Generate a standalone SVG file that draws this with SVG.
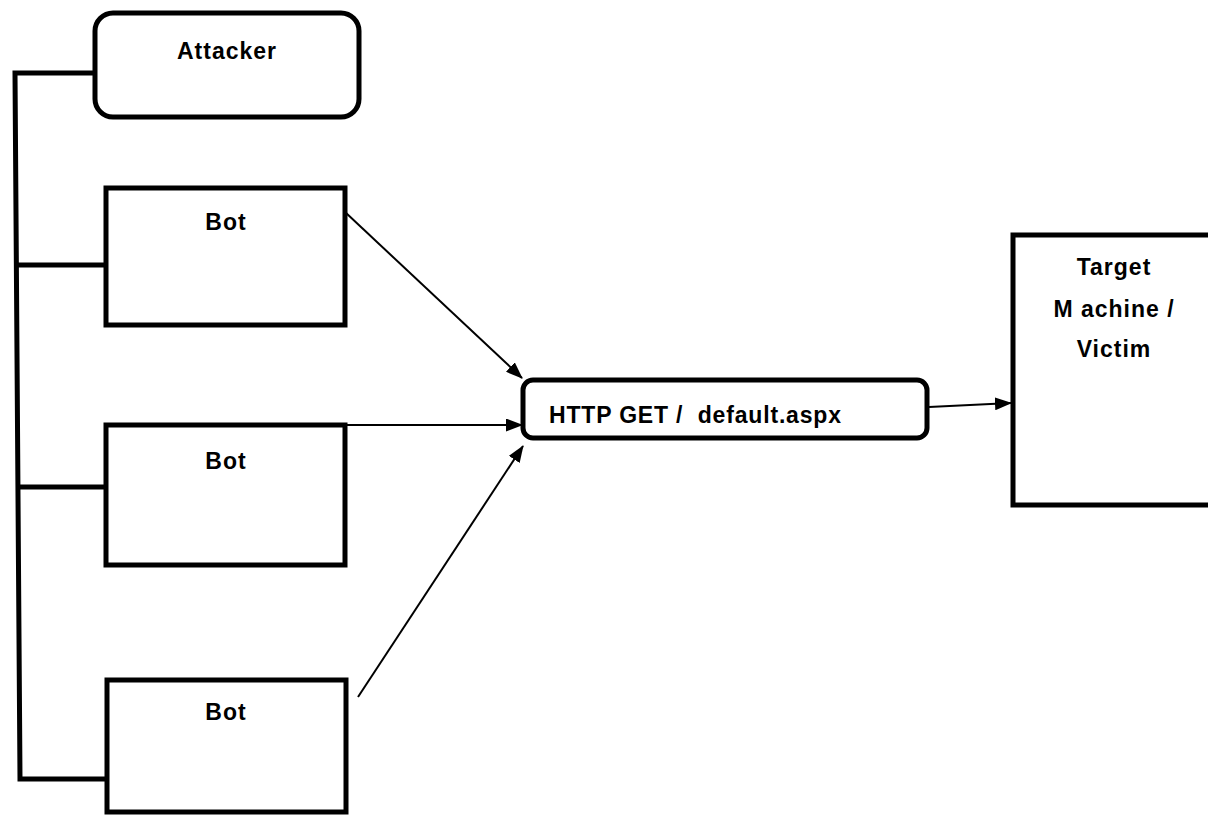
<svg xmlns="http://www.w3.org/2000/svg" width="1208" height="815" viewBox="0 0 1208 815">
<defs>
<marker id="arr" markerWidth="17" markerHeight="13" refX="16" refY="6.5" orient="auto" markerUnits="userSpaceOnUse">
<path d="M0,0 L17,6.5 L0,13 Z" fill="#000"/>
</marker>
<style>
.box{fill:#fff;stroke:#000;stroke-width:5}
.lbl{font-family:"Liberation Sans",Arial,sans-serif;font-weight:bold;font-size:23px;fill:#000;letter-spacing:1px}
.wire{fill:none;stroke:#000;stroke-width:5}
.arrow{fill:none;stroke:#000;stroke-width:2;marker-end:url(#arr)}
</style>
</defs>
<rect width="1208" height="815" fill="#fff"/>
<g id="connectors">
<path class="wire" d="M95,73 H15 L20,779 H106"/>
<path class="wire" d="M17,265 H106"/>
<path class="wire" d="M18,487 H106"/>
<line class="arrow" x1="345" y1="212" x2="522" y2="378"/>
<line class="arrow" x1="345" y1="425" x2="522" y2="425"/>
<line class="arrow" x1="358" y1="697" x2="523" y2="446"/>
<line class="arrow" x1="929" y1="407" x2="1011" y2="403"/>
</g>
<g id="attacker">
<rect class="box" x="95" y="13" width="264" height="104" rx="18"/>
<text class="lbl" x="227" y="59" text-anchor="middle">Attacker</text>
</g>
<g id="bot1">
<rect class="box" x="106" y="188" width="239" height="137"/>
<text class="lbl" x="226" y="230" text-anchor="middle">Bot</text>
</g>
<g id="bot2">
<rect class="box" x="106" y="425" width="239" height="140"/>
<text class="lbl" x="226" y="469" text-anchor="middle">Bot</text>
</g>
<g id="bot3">
<rect class="box" x="107" y="680" width="239" height="132"/>
<text class="lbl" x="226" y="720" text-anchor="middle">Bot</text>
</g>
<g id="http">
<rect class="box" x="523" y="380" width="404" height="58" rx="10"/>
<text class="lbl" x="549" y="423" style="white-space:pre" textLength="293" lengthAdjust="spacing">HTTP GET /  default.aspx</text>
</g>
<g id="target">
<rect class="box" x="1013" y="235" width="200" height="270"/>
<text class="lbl" x="1114" y="275" text-anchor="middle">Target</text>
<text class="lbl" x="1114" y="317" text-anchor="middle" style="white-space:pre">M achine /</text>
<text class="lbl" x="1114" y="357" text-anchor="middle">Victim</text>
</g>
</svg>
